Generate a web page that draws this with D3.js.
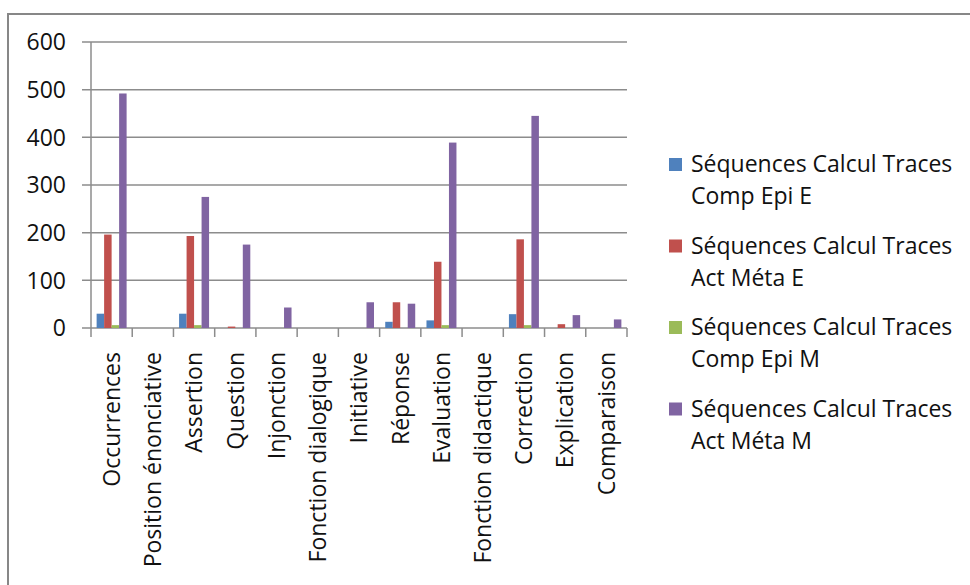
<!DOCTYPE html>
<html>
<head>
<meta charset="utf-8">
<script src="https://cdn.jsdelivr.net/npm/d3@7"></script>
<style>
  body { margin: 0; background: #fff; }
  text { font-family: 'Open Sans', sans-serif; fill: #111; }
</style>
</head>
<body>
<div id="chart"></div>
<script>
// categories and series
var categories = ['Occurrences', 'Position énonciative', 'Assertion', 'Question', 'Injonction',
  'Fonction dialogique', 'Initiative', 'Réponse', 'Evaluation', 'Fonction didactique',
  'Correction', 'Explication', 'Comparaison']
var seriesNames = ['Séquences Calcul Traces Comp Epi E', 'Séquences Calcul Traces Act Méta E',
  'Séquences Calcul Traces Comp Epi M', 'Séquences Calcul Traces Act Méta M']
var compEpiE = [30, 0, 30, 0, 0, 0, 0, 13, 16, 0, 29, 0, 0]
var actMetaE = [196, 0, 193, 3, 0, 0, 0, 54, 139, 0, 186, 8, 0]
var compEpiM = [6, 0, 6, 0, 0, 0, 0, 0, 6, 0, 6, 0, 0]
var actMetaM = [492, 0, 275, 175, 43, 0, 54, 51, 389, 0, 445, 27, 18]
var yTicks = [0, 100, 200, 300, 400, 500, 600]

var colors = ['#4F81BD', '#C0504D', '#9BBB59', '#8064A2']
var series = [compEpiE, actMetaE, compEpiM, actMetaM]

var width = 970
var height = 585
var margin = { top: 42, left: 91, right: 343, bottom: 257 }
var plotW = width - margin.left - margin.right
var plotH = height - margin.top - margin.bottom
var fontSize = 23

var svg = d3.select('#chart')
  .append('svg')
  .attr('width', width)
  .attr('height', height)

// outer frame, runs off the right and bottom edges
svg.append('rect')
  .attr('x', 8)
  .attr('y', 14)
  .attr('width', 1000)
  .attr('height', 600)
  .attr('fill', 'none')
  .attr('stroke', '#878787')
  .attr('stroke-width', 2)

var g = svg.append('g')
  .attr('transform', `translate(${margin.left},${margin.top})`)

var x = d3.scaleBand()
  .domain(categories)
  .range([0, plotW])

var y = d3.scaleLinear()
  .domain([0, 600])
  .range([plotH, 0])

// gridlines
g.append('g')
  .selectAll('line')
  .data(yTicks)
  .enter()
  .append('line')
  .attr('x1', -9)
  .attr('x2', plotW)
  .attr('y1', d => y(d))
  .attr('y2', d => y(d))
  .attr('stroke', '#8c8c8c')
  .attr('stroke-width', 1.5)

// y labels
g.append('g')
  .selectAll('text')
  .data(yTicks)
  .enter()
  .append('text')
  .attr('x', -25)
  .attr('y', d => y(d))
  .attr('dy', '0.36em')
  .attr('text-anchor', 'end')
  .attr('font-size', fontSize)
  .text(d => d)

// y axis line
g.append('line')
  .attr('x1', 0).attr('x2', 0)
  .attr('y1', 0).attr('y2', plotH)
  .attr('stroke', '#8c8c8c')
  .attr('stroke-width', 1.5)

// x ticks
g.append('g')
  .selectAll('line')
  .data(categories.concat(['end']))
  .enter()
  .append('line')
  .attr('x1', (d, i) => i * x.step())
  .attr('x2', (d, i) => i * x.step())
  .attr('y1', plotH)
  .attr('y2', plotH + 9)
  .attr('stroke', '#8c8c8c')
  .attr('stroke-width', 1.5)

// bars, Excel style gap width 150%
var barW = x.bandwidth() / 5.5
var groups = g.append('g')
  .selectAll('g')
  .data(series)
  .enter()
  .append('g')
  .attr('fill', (d, i) => colors[i])

groups.each(function(values, s) {
  d3.select(this)
    .selectAll('rect')
    .data(values)
    .enter()
    .append('rect')
    .attr('x', (d, i) => x(categories[i]) + barW * 0.75 + s * barW)
    .attr('width', barW)
    .attr('y', d => y(d))
    .attr('height', d => plotH - y(d))
})

// x labels, rotated
g.append('g')
  .selectAll('text')
  .data(categories)
  .enter()
  .append('text')
  .attr('transform', d => `translate(${x(d) + x.bandwidth() / 2},${plotH + 24}) rotate(-90)`)
  .attr('dy', '0.36em')
  .attr('text-anchor', 'end')
  .attr('font-size', fontSize)
  .text(d => d)

// legend
var legend = svg.append('g')
  .attr('transform', 'translate(669,164)')
  .selectAll('g')
  .data(seriesNames)
  .enter()
  .append('g')
  .attr('transform', (d, i) => `translate(0,${i * 81.5})`)

legend.append('rect')
  .attr('x', 0)
  .attr('y', -6)
  .attr('width', 13)
  .attr('height', 13)
  .attr('fill', (d, i) => colors[i])

legend.append('text')
  .attr('x', 22)
  .attr('dy', '0.36em')
  .attr('font-size', fontSize)
  .text(d => d.split(' ').slice(0, 3).join(' '))

legend.append('text')
  .attr('x', 22)
  .attr('y', 32)
  .attr('dy', '0.36em')
  .attr('font-size', fontSize)
  .text(d => d.split(' ').slice(3).join(' '))
</script>
</body>
</html>
